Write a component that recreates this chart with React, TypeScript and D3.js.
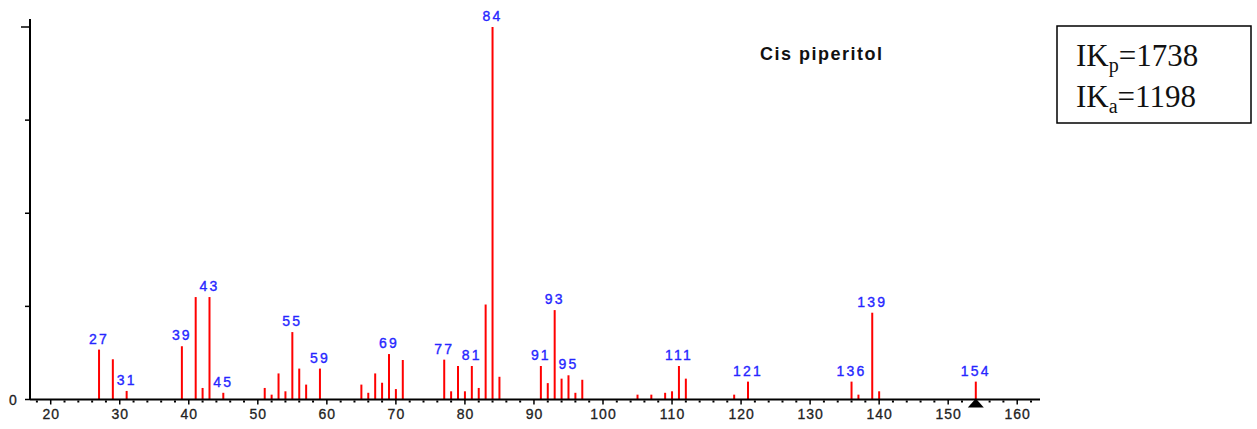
import React from 'react';
import * as d3 from 'd3';

// mass spectrum: m/z and relative intensity (%)
const mz = [27, 29, 31, 39, 41, 42, 43, 45, 51, 52, 53, 54, 55, 56, 57, 59, 65, 66, 67, 68, 69, 70, 71,
  77, 78, 79, 80, 81, 82, 83, 84, 85, 91, 92, 93, 94, 95, 96, 97, 105, 107, 109, 110, 111, 112,
  119, 121, 136, 137, 139, 140, 154];
const intensity = [13.4, 10.8, 2.3, 14.3, 27.5, 3.1, 27.5, 1.8, 3.1, 1.3, 7.0, 2.2, 18.1, 8.3, 4.0, 8.3, 4.0, 1.8, 7.0, 4.5, 12.2, 2.8, 10.6,
  10.7, 2.2, 9.0, 2.2, 9.0, 3.1, 25.5, 100, 6.1, 9.0, 4.4, 24.0, 5.6, 6.5, 1.8, 5.3, 1.3, 1.3, 1.8, 2.2, 9.0, 5.6,
  1.3, 4.8, 4.8, 1.3, 23.3, 2.2, 4.8];
const labelled = [27, 31, 39, 43, 45, 55, 59, 69, 77, 81, 84, 91, 93, 95, 111, 121, 136, 139, 154];
const xTicks = [20, 30, 40, 50, 60, 70, 80, 90, 100, 110, 120, 130, 140, 150, 160];
const yTicks = [0, 25, 50, 75, 100];
const title = 'Cis piperitol';
const molecularIon = 154;
const indexLines = [{ base: 'IK', sub: 'p', value: '=1738' }, { base: 'IK', sub: 'a', value: '=1198' }];

const W = 1257;
const H = 429;

const App = () => {
  const x = d3.scaleLinear().domain([17, 163.3]).range([30, 1040]);
  const y = d3.scaleLinear().domain([0, 100]).range([399.5, 27]);
  const base = y(0);
  const minor = d3.range(18, 164, 2).filter(v => v % 10 !== 0);
  const font = '"Liberation Sans", Arial, sans-serif';

  return (
    <div style={{ position: 'absolute', left: 0, top: 0 }}>
      <svg width={W} height={H} style={{ display: 'block', background: '#fff' }}>
        {/* peaks */}
        {mz.map((m, i) => (
          <line key={m} x1={x(m)} x2={x(m)} y1={base} y2={y(intensity[i])} stroke="#ff0000" strokeWidth={2} />
        ))}
        {labelled.map(m => {
          const v = intensity[mz.indexOf(m)];
          return (
            <text key={'l' + m} x={x(m)} y={y(v) - 6} textAnchor="middle" fill="#2626ff" stroke="#2626ff"
              strokeWidth={0.35} fontFamily={font} fontSize={14} letterSpacing={2.2}>{m}</text>
          );
        })}

        {/* y axis */}
        <line x1={30} x2={30} y1={19} y2={base} stroke="#000" strokeWidth={2} />
        {yTicks.map(t => (
          <line key={'yt' + t} x1={t === 100 ? 21 : 25} x2={30} y1={y(t)} y2={y(t)} stroke="#000" strokeWidth={1.5} />
        ))}
        <text x={13} y={base + 5} textAnchor="middle" fontFamily={font} fontSize={14} fill="#222"
          stroke="#222" strokeWidth={0.3}>0</text>

        {/* x axis */}
        <line x1={30} x2={1040} y1={base} y2={base} stroke="#000" strokeWidth={2} />
        {xTicks.map(t => (
          <g key={'xt' + t}>
            <line x1={x(t)} x2={x(t)} y1={base} y2={base + 5} stroke="#000" strokeWidth={1.5} />
            <text x={x(t) + 0.5} y={base + 19.5} textAnchor="middle" fontFamily={font} fontSize={14} fill="#222"
              stroke="#222" strokeWidth={0.3} letterSpacing={1}>{t}</text>
          </g>
        ))}
        {minor.map(t => (
          <rect key={'mt' + t} x={x(t) - 1} y={base + 1} width={2} height={2} fill="#000" />
        ))}
        <path d={`M${x(molecularIon)},${base - 1} L${x(molecularIon) - 8},${base + 8} L${x(molecularIon) + 8},${base + 8} Z`} fill="#000" />

        <text x={760} y={60} fontFamily={font} fontSize={18} fontWeight="bold" fill="#111" letterSpacing={1.5}>{title}</text>

        {/* retention index box */}
        <rect x={1057} y={26} width={194} height={97} fill="#fff" stroke="#000" strokeWidth={1.5} />
        {indexLines.map((l, i) => (
          <text key={l.sub} x={1076} y={66 + i * 41} fontFamily='"Liberation Serif", "Times New Roman", serif' fontSize={31} fill="#111">
            {l.base}
            <tspan fontSize={20} dy={6}>{l.sub}</tspan>
            <tspan dy={-6}>{l.value}</tspan>
          </text>
        ))}
      </svg>
    </div>
  );
};

export default App;
